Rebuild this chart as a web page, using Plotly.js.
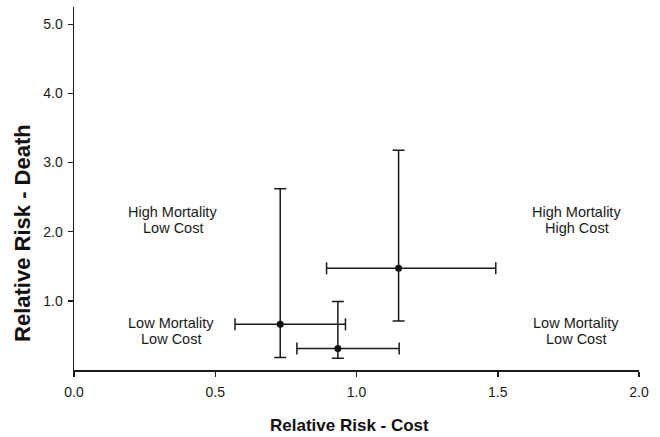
<!DOCTYPE html>
<html>
<head>
<meta charset="utf-8">
<script src="https://cdn.plot.ly/plotly-3.0.1.min.js"></script>
<style>html,body{margin:0;padding:0;background:#fff;}#chart{width:660px;height:437px;}</style>
</head>
<body>
<div id="chart"></div>
<script>
// Data
const costRR = [0.73, 0.934, 1.149];
const costLow = [0.57, 0.789, 0.894];
const costHigh = [0.961, 1.151, 1.493];
const deathRR = [0.66, 0.31, 1.47];
const deathLow = [0.18, 0.17, 0.71];
const deathHigh = [2.62, 0.99, 3.18];

const xTickVals = [0, 0.5, 1.0, 1.5, 2.0];
const xTickText = ['0.0', '0.5', '1.0', '1.5', '2.0'];
const yTickVals = [1, 2, 3, 4, 5];
const yTickText = ['1.0', '2.0', '3.0', '4.0', '5.0'];

const quadrantLabels = [
  ['High Mortality', 'Low Cost'],
  ['High Mortality', 'High Cost'],
  ['Low Mortality', 'Low Cost'],
  ['Low Mortality', 'Low Cost']
];
const xTitle = 'Relative Risk - Cost';
const yTitle = 'Relative Risk - Death';

const ink = '#1a1a1a';
const trace = {
  type: 'scatter',
  mode: 'markers',
  x: costRR,
  y: deathRR,
  marker: {color: '#111', size: 7},
  error_x: {
    type: 'data', symmetric: false,
    array: costRR.map((v, i) => costHigh[i] - v),
    arrayminus: costRR.map((v, i) => v - costLow[i]),
    color: ink, thickness: 1.5, width: 6
  },
  error_y: {
    type: 'data', symmetric: false,
    array: deathRR.map((v, i) => deathHigh[i] - v),
    arrayminus: deathRR.map((v, i) => v - deathLow[i]),
    color: ink, thickness: 1.5, width: 6
  },
  hoverinfo: 'none',
  showlegend: false
};

const fontFam = 'Liberation Sans, Arial, sans-serif';
const qPos = [
  {x: 0.175, y: 0.434, y2: 0.390},
  {x: 0.89, y: 0.434, y2: 0.390},
  {x: 0.172, y: 0.129, y2: 0.085},
  {x: 0.888, y: 0.129, y2: 0.085}
];
const annotations = [];
quadrantLabels.forEach((lines, i) => {
  annotations.push({xref: 'paper', yref: 'paper', x: qPos[i].x, y: qPos[i].y, text: lines[0],
    showarrow: false, xanchor: 'center', yanchor: 'middle', font: {family: fontFam, size: 14.5, color: ink}});
  annotations.push({xref: 'paper', yref: 'paper', x: qPos[i].x, y: qPos[i].y2, text: lines[1],
    showarrow: false, xanchor: 'center', yanchor: 'middle', font: {family: fontFam, size: 14.5, color: ink}});
});
annotations.push({xref: 'paper', yref: 'paper', x: 0.488, y: -0.154, text: '<b>' + xTitle + '</b>',
  showarrow: false, xanchor: 'center', yanchor: 'middle', font: {family: fontFam, size: 17, color: '#111'}});
annotations.push({xref: 'paper', yref: 'paper', x: -0.09, y: 0.378, text: '<b>' + yTitle + '</b>', textangle: -90,
  showarrow: false, xanchor: 'center', yanchor: 'middle', font: {family: fontFam, size: 22, color: '#111'}});

const layout = {
  width: 660, height: 437,
  margin: {l: 74, r: 21, t: 7, b: 67},
  paper_bgcolor: '#fff', plot_bgcolor: '#fff',
  font: {family: fontFam, color: ink},
  xaxis: {
    range: [0, 2], tickvals: xTickVals, ticktext: xTickText,
    showgrid: false, zeroline: false, showline: true, linecolor: ink, linewidth: 1.5,
    ticks: 'outside', ticklen: 5, tickwidth: 1.5, tickcolor: ink, ticklabelstandoff: 4,
    tickfont: {family: fontFam, size: 14, color: ink}, fixedrange: true
  },
  yaxis: {
    range: [0, 5.25], tickvals: yTickVals, ticktext: yTickText,
    showgrid: false, zeroline: false, showline: true, linecolor: ink, linewidth: 1.5,
    ticks: 'outside', ticklen: 5, tickwidth: 1.5, tickcolor: ink, ticklabelstandoff: 2,
    tickfont: {family: fontFam, size: 14, color: ink}, fixedrange: true
  },
  annotations: annotations
};

Plotly.newPlot('chart', [trace], layout, {displayModeBar: false, staticPlot: true});
</script>
</body>
</html>
